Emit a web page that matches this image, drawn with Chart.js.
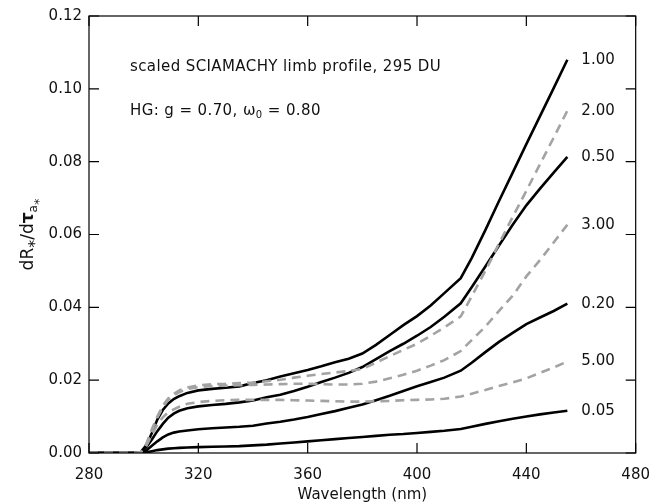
<!DOCTYPE html>
<html><head><meta charset="utf-8">
<script src="https://cdn.jsdelivr.net/npm/chart.js@4/dist/chart.umd.min.js"></script>
<style>html,body{margin:0;padding:0;background:#fff}#wrap{width:663px;height:502px;position:relative}</style>
</head><body><div id="wrap"><canvas id="c" width="663" height="502"></canvas></div>
<script>
// wavelength grid (nm)
const wavelengths = [280,290,297,299,301,303,305,307,309,311,313,316,320,325,330,335,340,345,350,355,360,365,370,375,380,385,390,395,400,405,410,416,420,425,430,435,440,445,450,455];
// solid black series (aerosol optical thickness labels)
const tau100 = [0,0,0,0.0003,0.0022,0.0055,0.0092,0.0118,0.0136,0.0148,0.0156,0.0165,0.0172,0.0176,0.0179,0.0183,0.0192,0.0200,0.0210,0.0219,0.0228,0.0238,0.0249,0.0259,0.0273,0.0297,0.0324,0.0351,0.0376,0.0405,0.0439,0.0480,0.0535,0.0612,0.0692,0.0770,0.0848,0.0925,0.1002,0.1080];
const tau050 = [0,0,0,0.0002,0.0016,0.0037,0.0060,0.0080,0.0097,0.0108,0.0116,0.0123,0.0128,0.0132,0.0135,0.0139,0.0144,0.0153,0.0160,0.0170,0.0182,0.0195,0.0207,0.0220,0.0236,0.0258,0.0280,0.0300,0.0322,0.0346,0.0374,0.0411,0.0455,0.0512,0.0570,0.0627,0.0680,0.0726,0.0770,0.0813];
const tau020 = [0,0,0,0.0001,0.0007,0.0020,0.0032,0.0043,0.0051,0.0056,0.0059,0.0062,0.0065,0.0068,0.0070,0.0072,0.0075,0.0081,0.0086,0.0092,0.0099,0.0107,0.0115,0.0124,0.0133,0.0145,0.0157,0.0170,0.0183,0.0195,0.0207,0.0226,0.0248,0.0277,0.0305,0.0330,0.0354,0.0372,0.0390,0.0410];
const tau005 = [0,0,0,0,0.0002,0.0005,0.0008,0.0010,0.0012,0.0013,0.0014,0.0015,0.0016,0.0017,0.0018,0.0019,0.0021,0.0023,0.0026,0.0029,0.0032,0.0035,0.0038,0.0041,0.0044,0.0047,0.0050,0.0052,0.0055,0.0058,0.0061,0.0066,0.0072,0.0080,0.0087,0.0094,0.0100,0.0106,0.0111,0.0116];
// dashed grey series
const tau200 = [0,0,0,0.0002,0.0025,0.0065,0.0100,0.0130,0.0150,0.0162,0.0172,0.0180,0.0186,0.0189,0.0190,0.0192,0.0193,0.0197,0.0201,0.0207,0.0212,0.0217,0.0221,0.0225,0.0231,0.0248,0.0266,0.0283,0.0300,0.0322,0.0345,0.0375,0.0430,0.0500,0.0575,0.0648,0.0720,0.0793,0.0866,0.0940];
const tau300 = [0,0,0,0.0002,0.0024,0.0062,0.0097,0.0126,0.0146,0.0158,0.0167,0.0176,0.0181,0.0184,0.0185,0.0186,0.0187,0.0188,0.0189,0.0190,0.0190,0.0189,0.0188,0.0188,0.0190,0.0196,0.0205,0.0215,0.0226,0.0240,0.0255,0.0280,0.0310,0.0347,0.0390,0.0432,0.0485,0.0530,0.0578,0.0627];
const tau500 = [0,0,0,0.0002,0.0020,0.0050,0.0078,0.0098,0.0112,0.0120,0.0127,0.0135,0.0140,0.0143,0.0145,0.0146,0.0146,0.0146,0.0146,0.0145,0.0144,0.0143,0.0142,0.0141,0.0141,0.0142,0.0143,0.0145,0.0146,0.0147,0.0149,0.0155,0.0163,0.0173,0.0184,0.0194,0.0205,0.0220,0.0235,0.0251];

const solidLabels = ['1.00','0.50','0.20','0.05'];
const solidSeries = [tau100, tau050, tau020, tau005];
const dashedLabels = ['2.00','3.00','5.00'];
const dashedSeries = [tau200, tau300, tau500];
const xTickValues = [280,320,360,400,440,480];
const yTickValues = [0,0.02,0.04,0.06,0.08,0.10,0.12];
const annotation1 = 'scaled SCIAMACHY limb profile, 295 DU';

const FONT = '"DejaVu Sans", sans-serif';
const toPts = arr => wavelengths.map((w,i)=>({x:w,y:arr[i]}));

const datasets = [];
dashedSeries.forEach((s,i)=>datasets.push({label:dashedLabels[i],data:toPts(s),borderColor:'#a3a3a3',borderWidth:2.6,borderDash:[9,6],pointRadius:0,tension:0,fill:false,order:0}));
solidSeries.forEach((s,i)=>datasets.push({label:solidLabels[i],data:toPts(s),borderColor:'#000',borderWidth:2.6,pointRadius:0,tension:0,fill:false,order:1}));

const frame = {
  id:'frame',
  afterDraw(chart){
    const {ctx, chartArea:a, scales:{x,y}} = chart;
    ctx.save();
    ctx.strokeStyle='#000'; ctx.lineWidth=1.2;
    ctx.strokeRect(a.left, a.top, a.right-a.left, a.bottom-a.top);
    ctx.beginPath();
    x.ticks.forEach(t=>{const p=x.getPixelForValue(t.value);ctx.moveTo(p,a.bottom);ctx.lineTo(p,a.bottom-10);ctx.moveTo(p,a.top);ctx.lineTo(p,a.top+10);});
    y.ticks.forEach(t=>{const p=y.getPixelForValue(t.value);ctx.moveTo(a.left,p);ctx.lineTo(a.left+10,p);ctx.moveTo(a.right,p);ctx.lineTo(a.right-10,p);});
    ctx.stroke();
    // curve end labels
    ctx.fillStyle='#111'; ctx.font='15px '+FONT; ctx.textBaseline='middle'; ctx.textAlign='left';
    const lastX = wavelengths[wavelengths.length-1];
    chart.data.datasets.forEach(ds=>{
      const last = ds.data[ds.data.length-1];
      ctx.fillText(ds.label, x.getPixelForValue(lastX)+14, y.getPixelForValue(last.y));
    });
    // annotations
    ctx.letterSpacing = '0.4px';
    const tx = a.left+41;
    ctx.fillText(annotation1, tx, a.top+51);
    let cx = tx; const ty = a.top+95;
    const seg = (t, f, dy) => { ctx.font=f; ctx.fillText(t, cx, ty+dy); cx += ctx.measureText(t).width; };
    seg('HG: g = 0.70, ', '15px '+FONT, 0);
    seg('\u03C9', '15px '+FONT, 0);
    seg('0', '10px '+FONT, 4);
    seg(' = 0.80', '15px '+FONT, 0);
    ctx.letterSpacing = '0px';
    // y axis title with subscripts
    ctx.save();
    const parts = [['dR','17px '+FONT,0],['*','16px '+FONT,7],['/d','17px '+FONT,0],['\u03C4','bold 17px '+FONT,0],['a','12px '+FONT,4],['*','13px '+FONT,10]];
    let total=0; parts.forEach(p=>{ctx.font=p[1]; total+=ctx.measureText(p[0]).width;});
    ctx.translate(33, (a.top+a.bottom)/2);
    ctx.rotate(-Math.PI/2);
    ctx.textBaseline='alphabetic'; ctx.textAlign='left';
    let px = -total/2;
    parts.forEach(p=>{ctx.font=p[1]; ctx.fillText(p[0], px, p[2]); px += ctx.measureText(p[0]).width;});
    ctx.restore();
    ctx.restore();
  }
};

new Chart(document.getElementById('c'), {
  type:'line',
  data:{datasets},
  options:{
    responsive:false, animation:false, devicePixelRatio:1,
    layout:{padding:{left:0,right:26,top:15,bottom:0}},
    plugins:{legend:{display:false},tooltip:{enabled:false}},
    scales:{
      x:{type:'linear',min:280,max:480,
        afterBuildTicks:s=>{s.ticks=xTickValues.map(v=>({value:v}));},
        afterFit:s=>{s.height=49;},
        grid:{display:false,drawTicks:false},border:{display:false},
        ticks:{color:'#111',font:{family:FONT,size:15},padding:13,maxRotation:0,callback:v=>String(v)},
        title:{display:true,text:'Wavelength (nm)',color:'#111',font:{family:FONT,size:15,lineHeight:1},padding:{top:0,bottom:-1}}},
      y:{type:'linear',min:0,max:0.12,
        afterBuildTicks:s=>{s.ticks=yTickValues.map(v=>({value:v}));},
        afterFit:s=>{s.width=89;},
        grid:{display:false,drawTicks:false},border:{display:false},
        ticks:{color:'#111',font:{family:FONT,size:15},padding:7,callback:v=>Number(v).toFixed(2)}}
    }
  },
  plugins:[frame]
});
</script></body></html>
